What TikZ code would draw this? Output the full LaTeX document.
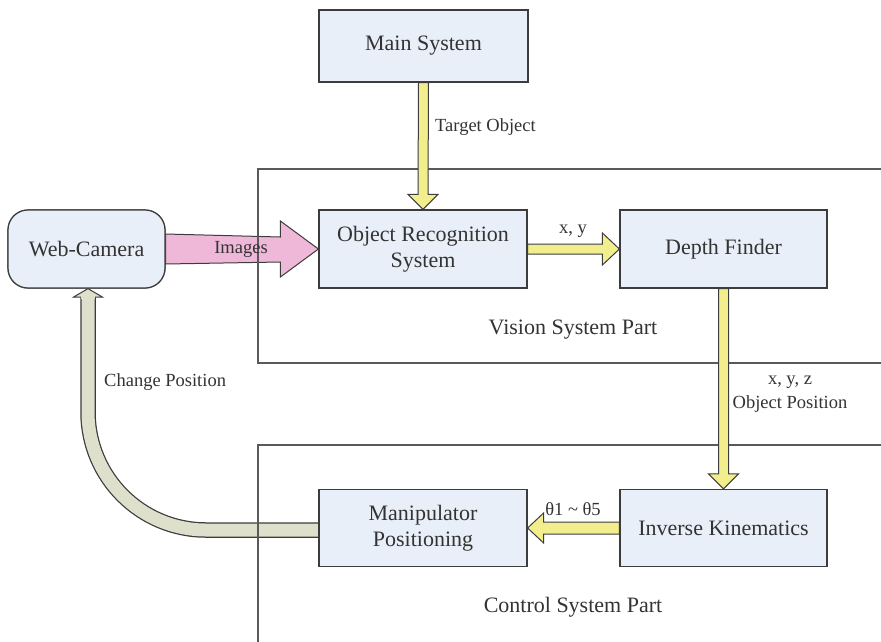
\documentclass[tikz,border=0pt]{standalone}
\usepackage{fontspec}
\setmainfont{Liberation Serif}
\usetikzlibrary{calc}
\definecolor{boxfill}{HTML}{E9EFF8}
\definecolor{linegray}{HTML}{3C3C3C}
\definecolor{txtgray}{HTML}{333333}
\definecolor{yel}{HTML}{F2EE8E}
\definecolor{pinkarrow}{HTML}{F0B8D8}
\definecolor{greyarrow}{HTML}{DEE0CB}
\tikzset{
  blk/.style={draw=linegray, line width=1.2pt, fill=boxfill, minimum width=208pt, minimum height=78pt,
    align=center, text=txtgray, font=\fontsize{22}{26}\selectfont, inner sep=0pt},
  camblk/.style={blk, minimum width=157pt, rounded corners=20pt},
  lbl/.style={text=txtgray, font=\fontsize{18.5}{24}\selectfont, inner sep=0pt, align=center},
  biglbl/.style={text=txtgray, font=\fontsize{22}{26}\selectfont, inner sep=0pt},
  yarrow/.style={draw=linegray, line width=1pt, fill=yel, line join=miter},
  parrow/.style={draw=linegray, line width=1pt, fill=pinkarrow, line join=miter},
  frame/.style={draw=linegray!85, line width=1.3pt}
}
\begin{document}
\begin{tikzpicture}[x=1pt,y=-1pt]
\useasboundingbox (0,0) rectangle (881,641);
% nodes (placed first for anchors, redrawn on top later)
\node[blk, minimum width=209pt, minimum height=72pt] (ms) at (423.5,46) {Main System};
\node[blk] (ors) at (423,249) {Object Recognition\\System};
\node[blk, minimum width=207pt] (df) at (723.5,249) {Depth Finder};
\node[camblk] (wc) at (86.5,249) {Web-Camera};
\node[blk, minimum width=207pt, minimum height=77pt] (ik) at (723.5,528) {Inverse Kinematics};
\node[blk, minimum height=77pt] (mp) at (423,528) {Manipulator\\Positioning};
% pink arrow (Images)
\draw[parrow] ($(wc.east)+(0,-15)$) -- ($(ors.west)+(-38,-12)$) -- ($(ors.west)+(-38,-28)$) -- (ors.west)
  -- ($(ors.west)+(-38,28)$) -- ($(ors.west)+(-38,13)$) -- ($(wc.east)+(0,15)$) -- cycle;
% grey curved arrow (Change Position)
\draw[line width=15.5pt, draw=linegray, rounded corners=118pt] ($(mp.west)+(0,2)$) -| ($(wc.south)+(1.5,8)$);
\draw[line width=13pt, draw=greyarrow, rounded corners=118pt] ($(mp.west)+(0,2)$) -| ($(wc.south)+(1.5,7)$);
\draw[draw=linegray, line width=1pt, fill=greyarrow, line join=miter]
  ($(wc.south)+(1.5,0)$) -- ($(wc.south)+(-13,8.5)$) -- ($(wc.south)+(16,8.5)$) -- cycle;
\fill[greyarrow] ($(wc.south)+(-5.2,7.5)$) rectangle ($(wc.south)+(8.2,10)$);
% frames
\draw[frame] (882,169) -- (258,169) -- (258,363) -- (882,363);
\draw[frame] (882,445) -- (258,445) -- (258,642);
% yellow arrows
\draw[yarrow] ($(ms.south)+(-5,0)$) -- ($(ors.north)+(-5,-15)$) -- ($(ors.north)+(-15,-15)$) -- (ors.north)
  -- ($(ors.north)+(15,-15)$) -- ($(ors.north)+(5,-15)$) -- ($(ms.south)+(5,0)$) -- cycle;
\draw[yarrow] ($(ors.east)+(0,-5)$) -- ($(df.west)+(-17,-5)$) -- ($(df.west)+(-17,-16)$) -- (df.west)
  -- ($(df.west)+(-17,16)$) -- ($(df.west)+(-17,5)$) -- ($(ors.east)+(0,5)$) -- cycle;
\draw[yarrow] ($(df.south)+(-5,0)$) -- ($(ik.north)+(-5,-15)$) -- ($(ik.north)+(-15,-15)$) -- (ik.north)
  -- ($(ik.north)+(15,-15)$) -- ($(ik.north)+(5,-15)$) -- ($(df.south)+(5,0)$) -- cycle;
\draw[yarrow] ($(ik.west)+(0,-6)$) -- ($(mp.east)+(16,-6)$) -- ($(mp.east)+(16,-15)$) -- (mp.east)
  -- ($(mp.east)+(16,15)$) -- ($(mp.east)+(16,6)$) -- ($(ik.west)+(0,6)$) -- cycle;
% redraw nodes on top
\node[blk, minimum width=209pt, minimum height=72pt] at (ms) {Main System};
\node[blk] at (ors) {Object Recognition\\System};
\node[blk, minimum width=207pt] at (df) {Depth Finder};
\node[camblk] at (wc) {Web-Camera};
\node[blk, minimum width=207pt, minimum height=77pt] at (ik) {Inverse Kinematics};
\node[blk, minimum height=77pt] at (mp) {Manipulator\\Positioning};
% labels
\node[lbl, anchor=west] (lto) at (435,127) {Target Object};
\node[lbl] (lxy) at (573,231) {x, y};
\node[biglbl] (lvs) at (573,330) {Vision System Part};
\node[lbl] (lxyz) at (790,394) {x, y, z\\Object Position};
\node[lbl] (lth) at (573,509) {θ1 \textasciitilde{} θ5};
\node[biglbl] (lcs) at (573,607) {Control System Part};
\node[lbl, anchor=west] (lcp) at (104,382) {Change Position};
\node[lbl] (lim) at (241,249) {Images};
\end{tikzpicture}
\end{document}
